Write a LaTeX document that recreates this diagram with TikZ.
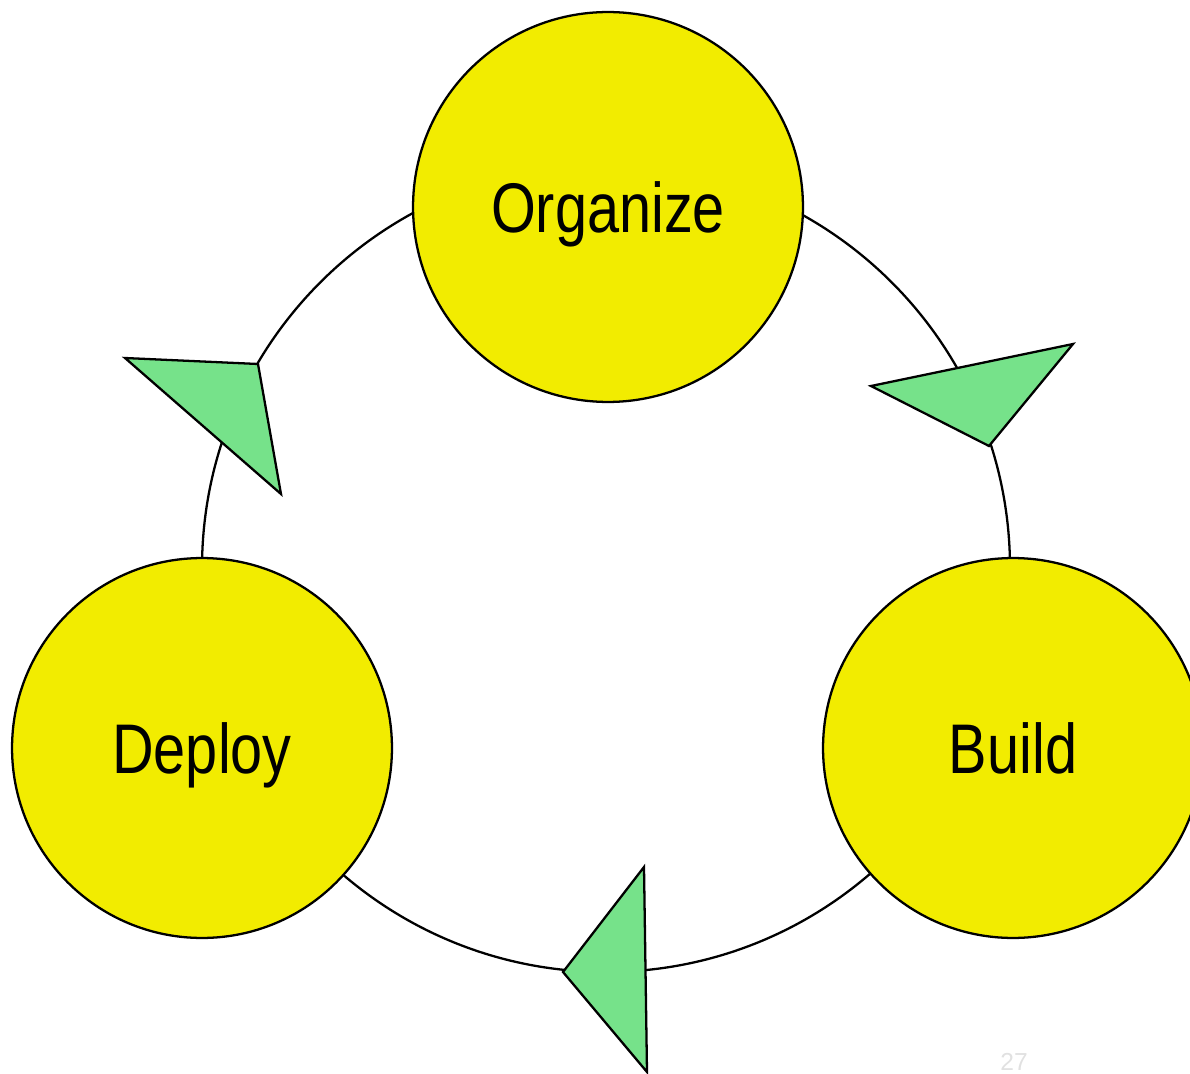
\documentclass[tikz,border=0pt]{standalone}
\usepackage{fontspec}
\setmainfont{Liberation Sans}
\newfontfamily\stagefont[FakeStretch=0.82]{Liberation Sans}
\usepackage{tikz}

\definecolor{stageyellow}{RGB}{242,236,0}
\definecolor{arrowgreen}{RGB}{118,226,138}
\definecolor{pagegray}{RGB}{225,225,225}

\begin{document}
\begin{tikzpicture}[x=0.02cm,y=-0.02cm,line width=1.3pt]

% Styles
\tikzset{
  stage/.style={circle,draw=black,fill=stageyellow,inner sep=0pt,
    font=\stagefont\fontsize{40}{48}\selectfont,text height=28.8pt,text depth=0pt},
  pointer/.style={draw=black,fill=arrowgreen,line join=miter}
}

% Define parameters
\def\cycr{404}        %Radius of the cycle.

% Page frame
\clip (0,0) rectangle (1190,1074);

% Define coordinates
\coordinate (mid) at (606,568);

% Cycle
\draw (mid) circle[radius=\cycr];

% Stages
\node[stage,minimum size=7.8cm] (org) at (608,207) {Organize};
\node[stage,minimum size=7.6cm] (dep) at (202,748) {Deploy};
\node[stage,minimum size=7.6cm] (bld) at (1013,748) {Build};

% Pointers on the cycle
\draw[pointer] (871,386) -- (1073,344) -- (989,446) -- cycle;
\draw[pointer] (563,972) -- (644,867) -- (647,1072) -- cycle;
\draw[pointer] (125,358) -- (258,364) -- (281,494) -- cycle;

% Page number
\node[text=pagegray,font=\fontsize{14}{16}\selectfont] (page) at (1014,1062) {27};

\end{tikzpicture}
\end{document}
